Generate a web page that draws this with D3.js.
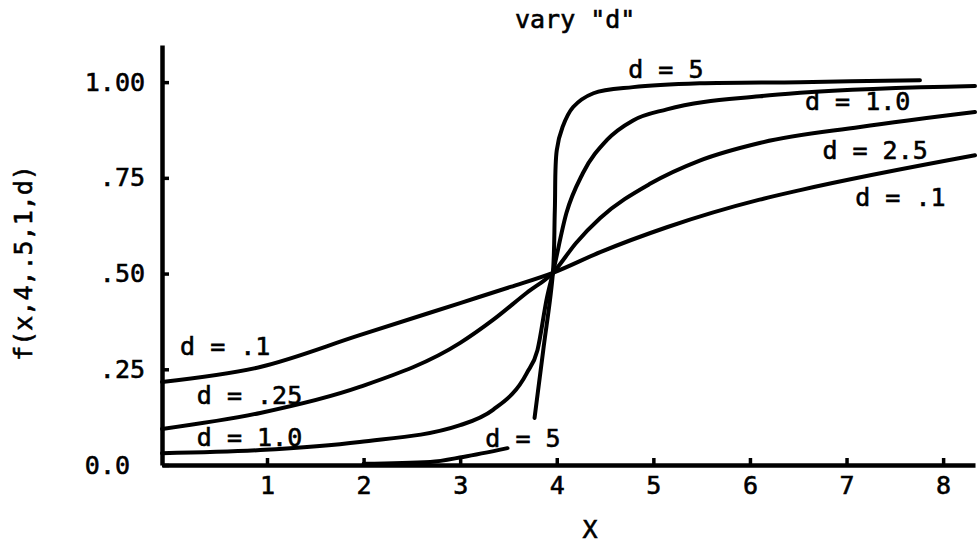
<!DOCTYPE html>
<html>
<head>
<meta charset="utf-8">
<script src="https://cdn.jsdelivr.net/npm/d3@7"></script>
<style>
  body { margin: 0; background: #fff; }
  svg text { font-family: "DejaVu Sans Mono", monospace; font-size: 25px; fill: #000; stroke: #000; stroke-width: 0.6px; }
  .axis path, .axis line { stroke: #000; }
</style>
</head>
<body>
<div id="chart"></div>
<script>
// values, [x, f]
var curveD01 = [[-0.087, 0.217], [0.93, 0.256], [1.96, 0.339], [3.0, 0.423], [3.52, 0.465],
  [3.96, 0.502], [4.45, 0.556], [5.14, 0.621], [6.1, 0.693], [6.52, 0.718], [8.33, 0.809]];
var curveD025 = [[-0.087, 0.094], [0.93, 0.136], [1.96, 0.204], [3.0, 0.319], [3.34, 0.379],
  [3.69, 0.450], [3.96, 0.502], [4.2, 0.58], [4.45, 0.645], [4.97, 0.735], [5.48, 0.795],
  [6.1, 0.841], [7.14, 0.883], [8.33, 0.922]];
var curveD1 = [[-0.087, 0.031], [0.93, 0.039], [1.96, 0.060], [3.0, 0.104], [3.34, 0.144],
  [3.69, 0.240], [3.80, 0.300], [3.90, 0.439], [3.96, 0.502], [4.1, 0.658], [4.27, 0.762],
  [4.52, 0.849], [4.79, 0.900], [5.14, 0.929], [6.1, 0.963], [6.52, 0.972], [8.33, 0.990]];
var curveD5low = [[2.0, 0.003], [2.69, 0.008], [3.03, 0.021], [3.49, 0.044]];
var curveD5 = [[3.77, 0.123], [3.86, 0.300], [3.96, 0.502], [3.98, 0.666], [4.0, 0.822],
  [4.06, 0.883], [4.17, 0.935], [4.38, 0.971], [4.79, 0.987], [5.48, 0.997], [6.52, 1.0], [7.76, 1.005]];

var xTicks = [1, 2, 3, 4, 5, 6, 7, 8];
var yTicks = [0, 0.25, 0.5, 0.75, 1.0];
var yTickLabels = ["0.0", ".25", ".50", ".75", "1.00"];

// curve labels, anchored in data units [x, f]
var labelText = ["d = 5", "d = 1.0", "d = 2.5", "d = .1", "d = .1", "d = .25", "d = 1.0", "d = 5"];
var labelAt = [[4.74, 1.010], [6.57, 0.927], [6.75, 0.799], [7.09, 0.676],
  [0.10, 0.287], [0.274, 0.159], [0.274, 0.050], [3.26, 0.047]];

var svg = d3.select("#chart").append("svg").attr("width", 978).attr("height", 545);

var x = d3.scaleLinear().domain([-0.087, 8.33]).range([162, 975]);
var y = d3.scaleLinear().domain([0, 1.097]).range([465, 45]);

// axes
var xAxis = d3.axisBottom(x).tickValues(xTicks).tickFormat(d3.format("d"))
  .tickSizeInner(-7).tickSizeOuter(0).tickPadding(11);
var gx = svg.append("g").attr("class", "axis").attr("transform", "translate(0,465)").call(xAxis);
gx.select(".domain").attr("stroke-width", 4.5);
gx.selectAll(".tick line").attr("stroke-width", 3.5);
gx.selectAll(".tick text").attr("font-size", 25).attr("font-family", "DejaVu Sans Mono");

var yAxis = d3.axisLeft(y).tickValues(yTicks).tickFormat(function(d, i) { return yTickLabels[i]; })
  .tickSizeInner(-7).tickSizeOuter(0).tickPadding(17);
var gy = svg.append("g").attr("class", "axis").attr("transform", "translate(162,0)").call(yAxis);
gy.select(".domain").attr("stroke-width", 4.5);
gy.selectAll(".tick line").attr("stroke-width", 3.5);
gy.selectAll(".tick text").attr("font-size", 25).attr("font-family", "DejaVu Sans Mono")
  .attr("dx", function(d) { return d === 0 ? -15 : 0; });

// curves: the gentle ones smooth in x, the steep d = 5 one through its points
var smoothLine = d3.line()
  .x(function(d) { return x(d[0]); })
  .y(function(d) { return y(d[1]); })
  .curve(d3.curveMonotoneX);
var steepLine = d3.line()
  .x(function(d) { return x(d[0]); })
  .y(function(d) { return y(d[1]); })
  .curve(d3.curveCatmullRom.alpha(0.5));

var curves = svg.append("g")
  .attr("fill", "none")
  .attr("stroke", "#000")
  .attr("stroke-width", 4)
  .attr("stroke-linecap", "round");
[curveD01, curveD025, curveD1, curveD5low].forEach(function(c) {
  curves.append("path").attr("d", smoothLine(c));
});
curves.append("path").attr("d", steepLine(curveD5));

// labels
svg.append("g").selectAll("text")
  .data(labelText)
  .enter().append("text")
  .attr("x", function(d, i) { return x(labelAt[i][0]); })
  .attr("y", function(d, i) { return y(labelAt[i][1]); })
  .attr("xml:space", "preserve")
  .text(function(d) { return d; });

svg.append("text").attr("x", 515).attr("y", 28).text('vary "d"');
svg.append("text").attr("x", 590).attr("y", 538).attr("text-anchor", "middle").text("X");
svg.append("text")
  .attr("transform", "translate(32,263) rotate(-90)")
  .attr("text-anchor", "middle")
  .text("f(x,4,.5,1,d)");
</script>
</body>
</html>
